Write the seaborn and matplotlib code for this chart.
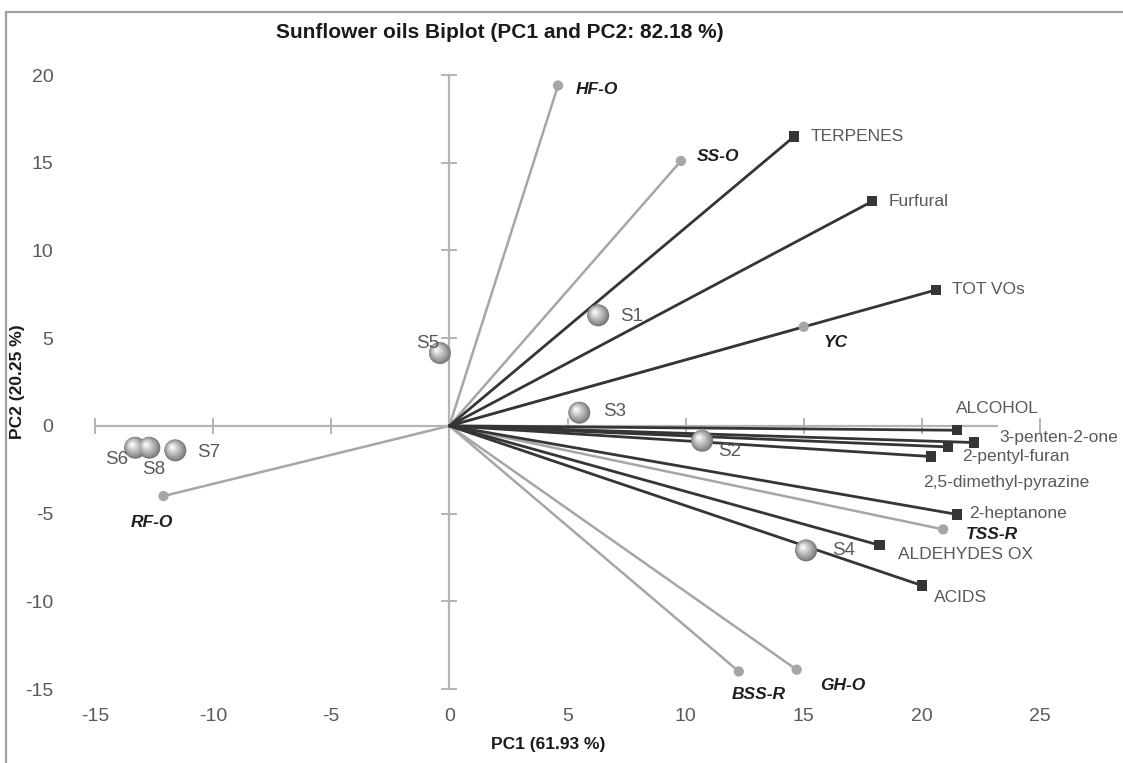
import matplotlib
matplotlib.use("Agg")
import matplotlib.pyplot as plt
import matplotlib.transforms as mtransforms
from matplotlib import font_manager
import seaborn as sns
import pandas as pd

# ---- data -------------------------------------------------------------
var_names = ["TERPENES", "Furfural", "TOT VOs", "ALCOHOL", "3-penten-2-one",
             "2-pentyl-furan", "2,5-dimethyl-pyrazine", "2-heptanone",
             "ALDEHYDES OX", "ACIDS"]
var_pc1 = [14.6, 17.9, 20.6, 21.5, 22.2, 20.4, 21.1, 21.5, 18.2, 20.0]
var_pc2 = [16.5, 12.8, 7.75, -0.25, -0.95, -1.75, -1.2, -5.05, -6.8, -9.1]

sup_names = ["HF-O", "SS-O", "YC", "TSS-R", "GH-O", "BSS-R", "RF-O"]
sup_pc1 = [4.6, 9.8, 15.0, 20.9, 14.7, 12.25, -12.1]
sup_pc2 = [19.4, 15.1, 5.65, -5.9, -13.9, -14.0, -4.0]

obs_names = ["S1", "S2", "S3", "S4", "S5", "S6", "S7", "S8"]
obs_pc1 = [6.3, 10.7, 5.5, 15.1, -0.4, -13.3, -11.6, -12.7]
obs_pc2 = [6.3, -0.85, 0.75, -7.1, 4.15, -1.25, -1.4, -1.25]

x_ticks = [-15, -10, -5, 0, 5, 10, 15, 20, 25]
y_ticks = [-15, -10, -5, 0, 5, 10, 15, 20]

title = "Sunflower oils Biplot (PC1 and PC2: 82.18 %)"
x_label = "PC1 (61.93 %)"
y_label = "PC2 (20.25 %)"

# ---- style ------------------------------------------------------------
sns.set_theme(style="white")
available = {f.name for f in font_manager.fontManager.ttflist}
narrow = "Liberation Sans Narrow" if "Liberation Sans Narrow" in available else "Liberation Sans"
plt.rcParams["font.family"] = [narrow, "DejaVu Sans"]
plt.rcParams["axes.unicode_minus"] = False

AXIS_GREY = "#b4b4b4"
TEXT_GREY = "#595959"
VAR_COL = "#353535"
SUP_COL = "#a6a6a6"

W, H = 1123, 763
fig = plt.figure(figsize=(W / 100, H / 100), dpi=100)
ax = fig.add_axes([95 / W, 1 - 689 / H, (1040 - 95) / W, (689 - 75) / H])
ax.set_xlim(-15, 25)
ax.set_ylim(-15, 20)

# outer chart frame (top and left edges)
fig.add_artist(plt.Line2D([6 / W, 1.0], [1 - 12 / H, 1 - 12 / H], color="#a0a0a0", lw=1.6))
fig.add_artist(plt.Line2D([6 / W, 6 / W], [0, 1 - 12 / H], color="#a0a0a0", lw=1.6))

# axes crossing at the origin
for side in ("top", "right"):
    ax.spines[side].set_visible(False)
ax.spines["left"].set_position(("data", 0))
ax.spines["bottom"].set_position(("data", 0))
ax.spines["bottom"].set_bounds(-15, 23.2)
for side in ("left", "bottom"):
    ax.spines[side].set_color(AXIS_GREY)
    ax.spines[side].set_linewidth(1.6)
ax.set_xticks(x_ticks)
ax.set_yticks(y_ticks)
ax.tick_params(axis="both", bottom=True, left=True, direction="inout", length=11,
               width=1.4, color=AXIS_GREY, labelleft=False, labelbottom=False)

# tick labels along the outer edges
secx = ax.secondary_xaxis(0.0)
secx.set_xticks(x_ticks)
secx.spines["bottom"].set_visible(False)
secx.tick_params(length=0, pad=14, labelsize=14, labelcolor=TEXT_GREY)
secy = ax.secondary_yaxis(0.0)
secy.set_yticks(y_ticks)
secy.spines["left"].set_visible(False)
secy.tick_params(length=0, pad=30, labelsize=14, labelcolor=TEXT_GREY)

# ---- vectors from the origin -----------------------------------------
var_df = pd.DataFrame({"label": var_names, "pc1": var_pc1, "pc2": var_pc2})
sup_df = pd.DataFrame({"label": sup_names, "pc1": sup_pc1, "pc2": sup_pc2})
obs_df = pd.DataFrame({"label": obs_names, "pc1": obs_pc1, "pc2": obs_pc2})

for _, r in sup_df.iterrows():
    seg = pd.DataFrame({"pc1": [0, r.pc1], "pc2": [0, r.pc2]})
    sns.lineplot(data=seg, x="pc1", y="pc2", ax=ax, color=SUP_COL, lw=1.8,
                 sort=False, estimator=None, zorder=2)
for _, r in var_df.iterrows():
    seg = pd.DataFrame({"pc1": [0, r.pc1], "pc2": [0, r.pc2]})
    sns.lineplot(data=seg, x="pc1", y="pc2", ax=ax, color=VAR_COL, lw=2.0,
                 sort=False, estimator=None, zorder=3)

sns.scatterplot(data=sup_df, x="pc1", y="pc2", ax=ax, color=SUP_COL, s=55,
                marker="o", edgecolor="none", zorder=4, clip_on=False)
sns.scatterplot(data=var_df, x="pc1", y="pc2", ax=ax, color=VAR_COL, s=55,
                marker="s", edgecolor="none", zorder=4, clip_on=False)

# shaded spheres for the samples: stacked discs shifted toward the highlight
shades = [(250, "#777777", 0.0, 0.0), (215, "#8b8b8b", -0.4, 0.4), (165, "#a0a0a0", -0.8, 0.8),
          (110, "#b6b6b6", -1.2, 1.2), (62, "#cdcdcd", -1.6, 1.6),
          (26, "#e4e4e4", -2.0, 2.0), (7, "#f7f7f7", -2.3, 2.3)]
for size, col, dx, dy in shades:
    sns.scatterplot(data=obs_df, x="pc1", y="pc2", ax=ax, s=size, color=col,
                    edgecolor="none", zorder=5, legend=False)
    coll = ax.collections[-1]
    coll.set_offset_transform(ax.transData +
                              mtransforms.ScaledTranslation(dx / 72, dy / 72, fig.dpi_scale_trans))

# ---- labels (offsets in pixels, right / down) ------------------------
px = 0.72
var_offsets = {
    "TERPENES": (16, 0, "left"), "Furfural": (16, 0, "left"), "TOT VOs": (16, 0, "left"),
    "ALCOHOL": (40, -22, "center"), "3-penten-2-one": (26, -5, "left"),
    "2-pentyl-furan": (31, 0, "left"), "2,5-dimethyl-pyrazine": (-25, 36, "left"),
    "2-heptanone": (12, -1, "left"), "ALDEHYDES OX": (19, 9, "left"), "ACIDS": (12, 12, "left"),
}
for _, r in var_df.iterrows():
    dx, dy, ha = var_offsets[r["label"]]
    ax.annotate(r["label"], (r.pc1, r.pc2), xytext=(dx * px, -dy * px), textcoords="offset points",
                ha=ha, va="center", fontsize=12.5, color=TEXT_GREY, annotation_clip=False, zorder=6)

sup_offsets = {
    "HF-O": (18, 4, "left"), "SS-O": (16, -4, "left"), "YC": (20, 16, "left"),
    "TSS-R": (23, 5, "left"), "GH-O": (46, 16, "center"), "BSS-R": (20, 23, "center"),
    "RF-O": (-33, 26, "left"),
}
for _, r in sup_df.iterrows():
    dx, dy, ha = sup_offsets[r["label"]]
    ax.annotate(r["label"], (r.pc1, r.pc2), xytext=(dx * px, -dy * px), textcoords="offset points",
                ha=ha, va="center", fontsize=12.5, color="#1e1e1e", fontweight="bold",
                fontstyle="italic", annotation_clip=False, zorder=6)

obs_offsets = {
    "S1": (22, 1, "left"), "S2": (16, 11, "left"), "S3": (24, -1, "left"), "S4": (26, 0, "left"),
    "S5": (-24, -10, "left"), "S6": (-30, 12, "left"), "S7": (22, 2, "left"), "S8": (-7, 22, "left"),
}
for _, r in obs_df.iterrows():
    dx, dy, ha = obs_offsets[r["label"]]
    ax.annotate(r["label"], (r.pc1, r.pc2), xytext=(dx * px, -dy * px), textcoords="offset points",
                ha=ha, va="center", fontsize=13.5, color=TEXT_GREY, annotation_clip=False, zorder=6)

ax.set_xlabel("")
ax.set_ylabel("")
fig.text(500 / W, 1 - 32 / H, title, ha="center", va="center", fontsize=15,
         fontweight="bold", color="#1a1a1a")
fig.text(548 / W, 1 - 745 / H, x_label, ha="center", va="center", fontsize=12.5,
         fontweight="bold", color="#1a1a1a")
fig.text(18 / W, 1 - 382 / H, y_label, ha="center", va="center", rotation=90,
         fontsize=12.5, fontweight="bold", color="#1a1a1a")

fig.savefig("out.png", dpi=100, facecolor="white")
